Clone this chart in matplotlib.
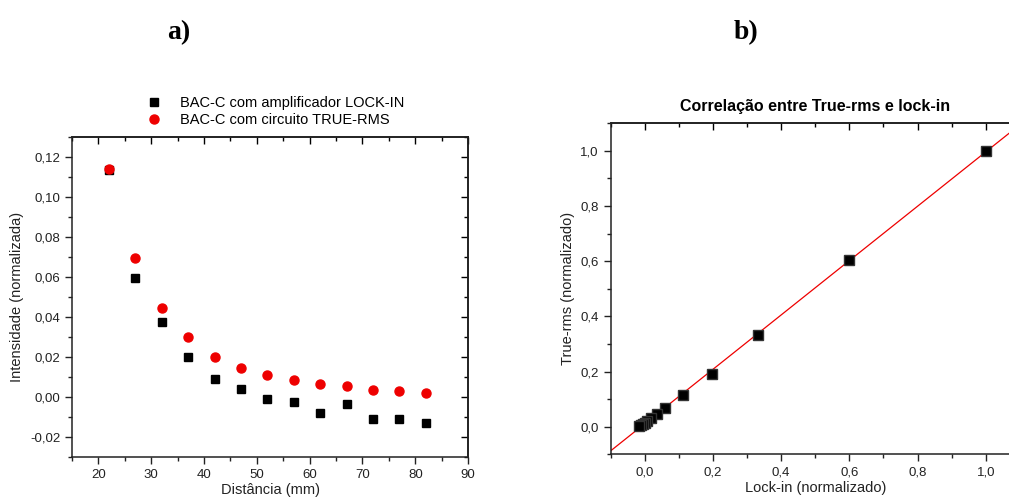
import numpy as np
import matplotlib.pyplot as plt
from matplotlib.ticker import MultipleLocator, FuncFormatter
from matplotlib.lines import Line2D

# panel a) data
distancia = [22, 27, 32, 37, 42, 47, 52, 57, 62, 67, 72, 77, 82]
lockin_amp = [0.1133, 0.0593, 0.0375, 0.0200, 0.0088, 0.0040, -0.0013, -0.0027,
              -0.0082, -0.0035, -0.0112, -0.0113, -0.0133]
truerms_amp = [0.1140, 0.0692, 0.0445, 0.0298, 0.0200, 0.0143, 0.0107, 0.0082,
               0.0062, 0.0053, 0.0032, 0.0027, 0.0017]

# panel b) data
lockin_norm = [1.0, 0.600, 0.332, 0.196, 0.112, 0.059, 0.037, 0.019, 0.008,
               0.002, -0.005, -0.010, -0.017]
truerms_norm = [1.0, 0.606, 0.332, 0.192, 0.114, 0.069, 0.046, 0.031, 0.020,
                0.014, 0.010, 0.006, 0.003]

plt.rcParams["font.family"] = ["Liberation Sans", "DejaVu Sans"]


def comma_fmt(decimals):
    def fmt(v, pos):
        if abs(v) < 1e-9:
            v = 0.0
        return f"{v:.{decimals}f}".replace(".", ",")
    return FuncFormatter(fmt)


def style_axes(ax, xmaj, xmin, ymaj, ymin, xdec, ydec):
    ax.xaxis.set_major_locator(MultipleLocator(xmaj))
    ax.xaxis.set_minor_locator(MultipleLocator(xmin))
    ax.yaxis.set_major_locator(MultipleLocator(ymaj))
    ax.yaxis.set_minor_locator(MultipleLocator(ymin))
    ax.xaxis.set_major_formatter(comma_fmt(xdec))
    ax.yaxis.set_major_formatter(comma_fmt(ydec))
    ax.tick_params(which="major", direction="out", length=5, width=1, labelsize=9.5,
                   color="#222222", labelcolor="#222222")
    ax.tick_params(which="minor", direction="out", length=3, width=1, color="#222222")
    for sp in ax.spines.values():
        sp.set_linewidth(1.1)
        sp.set_color("#222222")
    # mirrored ticks pointing inward on top/right
    top = ax.secondary_xaxis("top")
    top.xaxis.set_major_locator(MultipleLocator(xmaj))
    top.xaxis.set_minor_locator(MultipleLocator(xmin))
    top.tick_params(which="major", direction="in", length=5, width=1, labeltop=False)
    top.tick_params(which="minor", direction="in", length=3, width=1)
    top.spines["top"].set_linewidth(1.1)
    right = ax.secondary_yaxis("right")
    right.yaxis.set_major_locator(MultipleLocator(ymaj))
    right.yaxis.set_minor_locator(MultipleLocator(ymin))
    right.tick_params(which="major", direction="in", length=5, width=1, labelright=False)
    right.tick_params(which="minor", direction="in", length=3, width=1)
    right.spines["right"].set_linewidth(1.1)


fig = plt.figure(figsize=(10.09, 5.04), dpi=100)

# panel a
ax1 = fig.add_axes([0.0714, 0.0938, 0.3925, 0.635])
ax1.plot(distancia, lockin_amp, ls="none", marker="s", ms=6, color="black")
ax1.plot(distancia, truerms_amp, ls="none", marker="o", ms=6.5, color="#ee0000", mec="#ee0000")
ax1.set_xlim(15, 90)
ax1.set_ylim(-0.03, 0.13)
style_axes(ax1, 10, 5, 0.02, 0.01, 0, 2)
ax1.set_xlabel("Distância (mm)", fontsize=10.5, labelpad=2, color="#222222")
ax1.set_ylabel("Intensidade (normalizada)", fontsize=10.5, labelpad=4, color="#222222")

handles = [
    Line2D([], [], ls="none", marker="s", ms=6, color="black"),
    Line2D([], [], ls="none", marker="o", ms=6.5, color="#ee0000"),
]
fig.legend(handles, ["BAC-C com amplificador LOCK-IN", "BAC-C com circuito TRUE-RMS"],
           loc="center", bbox_to_anchor=(0.272, 0.778), frameon=False, fontsize=10.5,
           handlelength=1.2, handletextpad=1.2, labelspacing=0.2)

# panel b
ax2 = fig.add_axes([0.6052, 0.0986, 0.4056, 0.6567])
slope, intercept = np.polyfit(lockin_norm, truerms_norm, 1)
xfit = np.array([-0.1, 1.1])
ax2.plot(xfit, slope * xfit + intercept, color="#ee0000", lw=0.9)
ax2.plot(lockin_norm, truerms_norm, ls="none", marker="s", ms=6.5, color="black", mec="#333333")
ax2.set_xlim(-0.1, 1.1)
ax2.set_ylim(-0.1, 1.1)
style_axes(ax2, 0.2, 0.1, 0.2, 0.1, 1, 1)
ax2.set_xlabel("Lock-in (normalizado)", fontsize=10.5, labelpad=2, color="#222222")
ax2.set_ylabel("True-rms (normalizado)", fontsize=10.5, labelpad=4, color="#222222")
ax2.set_title("Correlação entre True-rms e lock-in", fontsize=11.5, fontweight="bold", pad=9)

fig.text(0.177, 0.935, "a)", fontsize=20, fontweight="bold", family="Liberation Serif",
         ha="center", va="center")
fig.text(0.739, 0.935, "b)", fontsize=20, fontweight="bold", family="Liberation Serif",
         ha="center", va="center")

fig.savefig("out.png", dpi=100)
